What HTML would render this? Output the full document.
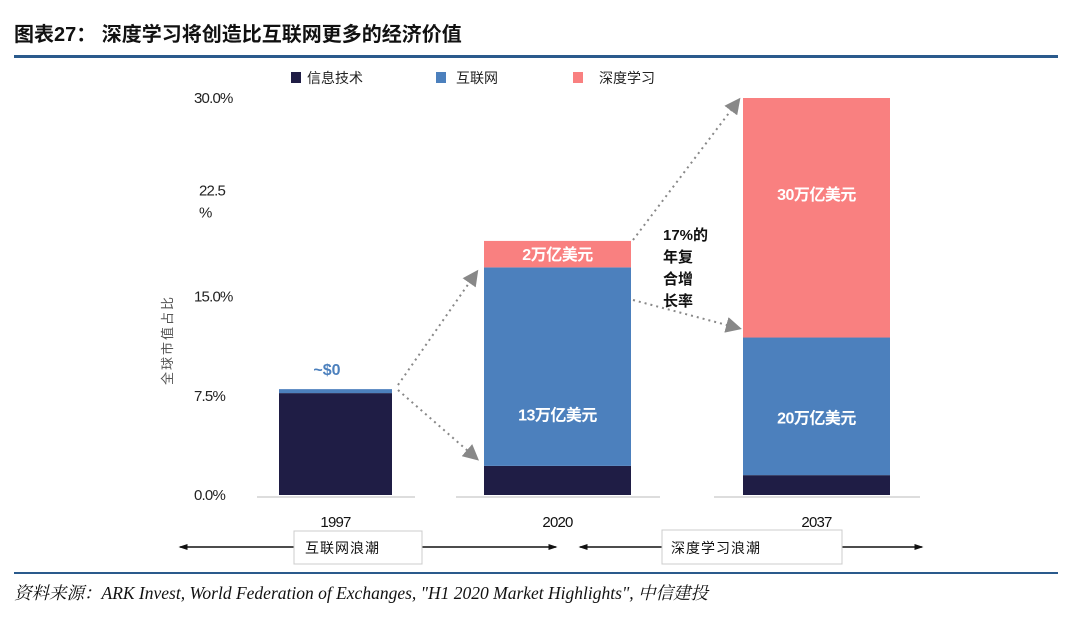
<!DOCTYPE html>
<html><head><meta charset="utf-8">
<style>
body{margin:0;background:#fff;width:1080px;height:613px;overflow:hidden;font-family:"Liberation Sans","Noto Sans CJK SC",sans-serif;}
</style></head>
<body>
<svg width="1080" height="613" xmlns="http://www.w3.org/2000/svg">
<defs>
<marker id="ga" markerWidth="8" markerHeight="8" refX="6" refY="4" orient="auto"><path d="M0,0 L8,4 L0,8 z" fill="#888"/></marker>
<marker id="ka" markerWidth="6" markerHeight="6" refX="5" refY="3" orient="auto"><path d="M0,1 L6,3 L0,5 z" fill="#111"/></marker>
<marker id="kb" markerWidth="6" markerHeight="6" refX="1" refY="3" orient="auto"><path d="M6,1 L0,3 L6,5 z" fill="#111"/></marker>
</defs>
<text x="14" y="41" font-size="20" font-weight="bold" fill="#111">图表27：  深度学习将创造比互联网更多的经济价值</text>
<rect x="14" y="55" width="1044" height="3" fill="#2a5a8c"/>
<rect x="14" y="572" width="1044" height="2" fill="#2a5a8c"/>
<text x="14" y="599" font-size="17.5" font-style="italic" font-family="Liberation Serif,'Noto Serif CJK SC',serif" fill="#111">资料来源：ARK Invest, World Federation of Exchanges, "H1 2020 Market Highlights", 中信建投</text>
<g id="legend" font-size="14" fill="#222">
<rect x="291" y="72" width="10" height="11" fill="#1f1d45"/><text x="307" y="83">信息技术</text>
<rect x="436" y="72" width="10" height="11" fill="#4c80bd"/><text x="456" y="83">互联网</text>
<rect x="573" y="72" width="10" height="11" fill="#f98080"/><text x="599" y="83">深度学习</text>
</g>
<g id="yaxis" font-size="15" fill="#222" letter-spacing="-0.8"></g>
<text transform="translate(172,340) rotate(-90)" text-anchor="middle" font-size="13" fill="#555" letter-spacing="2">全球市值占比</text>
<g id="bars"></g>
<g stroke="#888" stroke-width="2" stroke-dasharray="2,4" fill="none">
<line x1="398" y1="385" x2="476" y2="273" marker-end="url(#ga)"/>
<line x1="398" y1="390" x2="476" y2="458" marker-end="url(#ga)"/>
<line x1="633" y1="240" x2="738" y2="101" marker-end="url(#ga)"/>
<line x1="633" y1="300" x2="738" y2="328" marker-end="url(#ga)"/>
</g>
<text font-size="15" font-weight="bold" fill="#111"><tspan x="663" y="240">17%的</tspan><tspan x="663" y="262">年复</tspan><tspan x="663" y="284">合增</tspan><tspan x="663" y="306">长率</tspan></text>
<text x="327" y="375" font-size="16" font-weight="bold" fill="#4c80bd" text-anchor="middle">~$0</text>
<g stroke="#111" stroke-width="1.5">
<line x1="180" y1="547" x2="556" y2="547" marker-end="url(#ka)" marker-start="url(#kb)"/>
<line x1="580" y1="547" x2="922" y2="547" marker-end="url(#ka)" marker-start="url(#kb)"/>
</g>
<rect x="294" y="531" width="128" height="33" fill="#fff" stroke="#ccc"/>
<text x="305" y="553" font-size="14" fill="#111" letter-spacing="1">互联网浪潮</text>
<rect x="662" y="530" width="180" height="34" fill="#fff" stroke="#ccc"/>
<text x="671" y="553" font-size="14" fill="#111" letter-spacing="1">深度学习浪潮</text>
</svg>
<script>
const categories=["1997","2020","2037"];
const itValues=[7.7,2.2,1.5];
const internetValues=[0.3,15.0,10.4];
const dlValues=[0,2.0,18.1];
const segLabels=[["","",""],["","13万亿美元","2万亿美元"],["","20万亿美元","30万亿美元"]];
const yTicks=[0,7.5,15,22.5,30];
const yTickLabels=["0.0%","7.5%","15.0%","22.5\n%","30.0%"];
const NS="http://www.w3.org/2000/svg";
const y0=495,y1=98,yMax=30;
function yScale(v){return y0-(y0-y1)*v/yMax;}
const barX=[279,484,743],barW=[113,147,147];
const baseX=[[257,415],[456,660],[714,920]];
const labelFrac=[[0.5,0.5,0.5],[0.5,0.74,0.5],[0.5,0.58,0.4]];
const colors=["#1f1d45","#4c80bd","#f98080"];
const yaxis=document.getElementById('yaxis');
yTicks.forEach((t,i)=>{
 const parts=yTickLabels[i].split("\n");
 const tx=document.createElementNS(NS,'text');
 
 
 const xx=parts.length>1?199:194;
 tx.setAttribute('x',xx);
 tx.setAttribute('y',yScale(t)+(parts.length>1?-2:5));
 parts.forEach((p,j)=>{const ts=document.createElementNS(NS,'tspan');ts.setAttribute('x',xx);ts.setAttribute('dy',j?22:0);ts.textContent=p;tx.appendChild(ts);});
 yaxis.appendChild(tx);
});
const g=document.getElementById('bars');
categories.forEach((c,i)=>{
 const bl=document.createElementNS(NS,'line');
 
 
 bl.setAttribute('x1',baseX[i][0]);bl.setAttribute('x2',baseX[i][1]);bl.setAttribute('y1',y0+2);bl.setAttribute('y2',y0+2);bl.setAttribute('stroke','#bbb');
 g.appendChild(bl);
 let acc=0;
 [itValues[i],internetValues[i],dlValues[i]].forEach((v,s)=>{
  if(v<=0)return;
  const r=document.createElementNS(NS,'rect');
  
  
  const top=yScale(acc+v),bot=yScale(acc);
  r.setAttribute('x',barX[i]);r.setAttribute('width',barW[i]);r.setAttribute('y',top);r.setAttribute('height',bot-top);r.setAttribute('fill',colors[s]);
  g.appendChild(r);
  const lab=segLabels[i][s];
  if(lab){
   const t=document.createElementNS(NS,'text');
   
   
   t.setAttribute('x',barX[i]+barW[i]/2);t.setAttribute('y',top+(bot-top)*labelFrac[i][s]+6);
   t.setAttribute('text-anchor','middle');t.setAttribute('fill','#fff');t.setAttribute('font-size','16');t.setAttribute('font-weight','bold');t.setAttribute('letter-spacing','-0.5');
   t.textContent=lab;g.appendChild(t);
  }
  acc+=v;
 });
 const yl=document.createElementNS(NS,'text');
 
 
 yl.setAttribute('x',barX[i]+barW[i]/2);yl.setAttribute('y',527);yl.setAttribute('text-anchor','middle');yl.setAttribute('font-size','15');yl.setAttribute('fill','#111');yl.setAttribute('letter-spacing','-0.8');
 yl.textContent=c;g.appendChild(yl);
});
</script>
</body></html>
